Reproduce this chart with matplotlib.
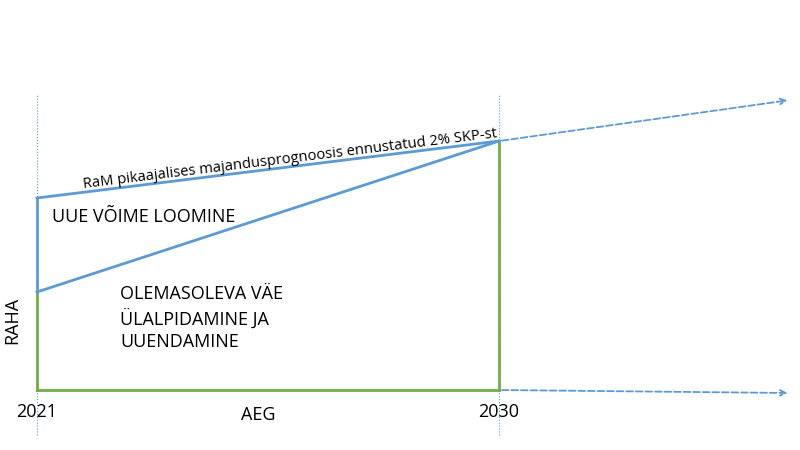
import matplotlib.pyplot as plt

years = [2021, 2030]
ext_year = 2035.67
upper_start, lower_start, top_end = 192, 98, 249
arrow_top, arrow_bottom = 290, -3

blue = '#5b9bd5'
green = '#70ad47'

fig = plt.figure(figsize=(8, 4.5), dpi=100)
ax = fig.add_axes([0, 0, 1, 1])
ax.set_xlim(2020.28, 2035.86)
ax.set_ylim(-60, 390)
ax.axis('off')

# dotted guides
for yr in years:
    ax.plot([yr, yr], [-45, 295], color=blue, linestyle=':', linewidth=0.8)

# green box parts
ax.plot([years[0], years[1]], [0, 0], color=green, linewidth=2)
ax.plot([years[0], years[0]], [0, lower_start], color=green, linewidth=2)
ax.plot([years[1], years[1]], [0, top_end], color=green, linewidth=2)

# blue lines
ax.plot([years[0], years[0]], [lower_start, upper_start], color=blue, linewidth=2)
ax.plot(years, [upper_start, top_end], color=blue, linewidth=2)
ax.plot(years, [lower_start, top_end], color=blue, linewidth=2)

# dashed extensions
for y0, y1 in [(top_end, arrow_top), (0, arrow_bottom)]:
    ax.annotate('', xy=(ext_year, y1), xytext=(years[1], y0),
                arrowprops=dict(arrowstyle='->', color=blue, linestyle='--', linewidth=1.3))

ax.text(2025.93, 231, 'RaM pikaajalises majandusprognoosis ennustatud 2% SKP-st',
        ha='center', va='center', rotation=7, fontsize=10.6, family='Open Sans')
ax.text(2021.3, 173, 'UUE VÕIME LOOMINE', ha='left', va='center', fontsize=13, family='Open Sans')
ax.text(2022.62, 72, 'OLEMASOLEVA VÄE\nÜLALPIDAMINE JA\nUUENDAMINE', ha='left', va='center',
        fontsize=13, family='Open Sans', linespacing=1.35)
ax.text(2020.52, 70, 'RAHA', rotation=90, ha='center', va='center', fontsize=13, family='Open Sans')
ax.text(years[0], -22, '2021', ha='center', va='center', fontsize=13, family='Open Sans')
ax.text(years[1], -22, '2030', ha='center', va='center', fontsize=13, family='Open Sans')
ax.text(2025.3, -25, 'AEG', ha='center', va='center', fontsize=13, family='Open Sans')

fig.savefig('out.png', dpi=100)
